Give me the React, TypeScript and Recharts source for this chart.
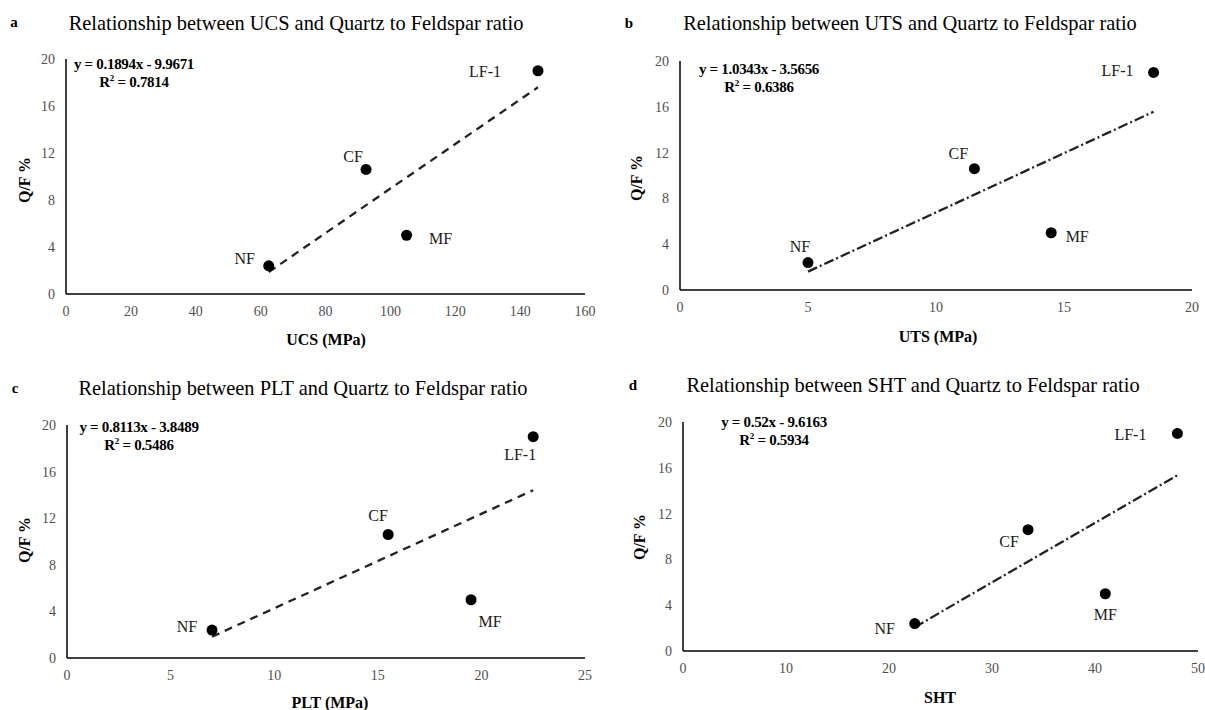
import { ScatterChart, Scatter, XAxis, YAxis } from 'recharts'

// samples and Q/F ratio (%) – same for every panel
const samples = ['NF', 'CF', 'MF', 'LF-1']
const qfRatio = [2.4, 10.6, 5, 19]

// x values per panel
const ucs = [62.5, 92.5, 105, 145.5]
const uts = [5, 11.5, 14.5, 18.5]
const plt = [7, 15.5, 19.5, 22.5]
const sht = [22.5, 33.5, 41, 48]

// printed trendline equations  (slope, intercept, R²)
const slopes = [0.1894, 1.0343, 0.8113, 0.52]
const intercepts = [-9.9671, -3.5656, -3.8489, -9.6163]
const rSquared = ['0.7814', '0.6386', '0.5486', '0.5934']

const yTicks = [0, 4, 8, 12, 16, 20]
const ucsTicks = [0, 20, 40, 60, 80, 100, 120, 140, 160]
const utsTicks = [0, 5, 10, 15, 20]
const pltTicks = [0, 5, 10, 15, 20, 25]
const shtTicks = [0, 10, 20, 30, 40, 50]

const SERIF = 'Liberation Serif'

type Offsets = Record<string, [number, number]>

const panels = [
  {
    key: 'a', param: 'UCS', xLabel: 'UCS (MPa)', xs: ucs, ticks: ucsTicks, dash: '8 6',
    box: { left: 0, top: 0, width: 600, height: 350 },
    margin: { top: 59, right: 15, bottom: 26, left: 46 },
    letter: [14, 22], title: [296, 23], yLab: [25, 180], xLab: [326, 340], eq: [134, 65],
    offsets: { 'LF-1': [-53, 1], CF: [-13, -13], MF: [34, 3], NF: [-24, -7] } as Offsets,
  },
  {
    key: 'b', param: 'UTS', xLabel: 'UTS (MPa)', xs: uts, ticks: utsTicks, dash: '10 3 2 3',
    box: { left: 600, top: 0, width: 605, height: 350 },
    margin: { top: 61, right: 13, bottom: 30, left: 60 },
    letter: [629, 23], title: [910, 23], yLab: [637, 178], xLab: [938, 337], eq: [759, 70],
    offsets: { 'LF-1': [-36, -2], CF: [-16, -15], MF: [26, 4], NF: [-8, -16] } as Offsets,
  },
  {
    key: 'c', param: 'PLT', xLabel: 'PLT (MPa)', xs: plt, ticks: pltTicks, dash: '8 6',
    box: { left: 0, top: 355, width: 600, height: 355 },
    margin: { top: 70, right: 15, bottom: 22, left: 47 },
    letter: [15, 388], title: [303, 388], yLab: [25, 540], xLab: [330, 703], eq: [139, 428],
    offsets: { 'LF-1': [-13, 18], CF: [-10, -19], MF: [19, 22], NF: [-25, -4] } as Offsets,
  },
  {
    key: 'd', param: 'SHT', xLabel: 'SHT', xs: sht, ticks: shtTicks, dash: '10 3 2 3',
    box: { left: 600, top: 355, width: 605, height: 355 },
    margin: { top: 67, right: 7, bottom: 29, left: 63 },
    letter: [633, 385], title: [913, 385], yLab: [640, 537], xLab: [940, 698], eq: [774, 423],
    offsets: { 'LF-1': [-47, 1], CF: [-19, 12], MF: [0, 21], NF: [-30, 5] } as Offsets,
  },
]

function abs(x: number, y: number, extra: React.CSSProperties = {}): React.CSSProperties {
  return {
    position: 'absolute', left: x, top: y, transform: 'translate(-50%, -50%)',
    fontFamily: SERIF, color: '#000', whiteSpace: 'nowrap', lineHeight: 1, ...extra,
  }
}

function Panel({ p, idx }: { p: typeof panels[number]; idx: number }) {
  const points = p.xs.map((x, i) => ({ x, y: qfRatio[i], name: samples[i] }))
  const xMin = Math.min(...p.xs)
  const xMax = Math.max(...p.xs)
  const trend = [xMin, xMax].map(x => ({ x, y: slopes[idx] * x + intercepts[idx] }))
  const xDomainMax = p.ticks[p.ticks.length - 1]
  const sign = intercepts[idx] < 0 ? '-' : '+'

  const dot = (props: any) => {
    const { cx, cy, payload } = props
    const [dx, dy] = p.offsets[payload.name] || [0, 0]
    return (
      <g>
        <circle cx={cx} cy={cy} r={5.5} fill="#000" />
        <text x={cx + dx} y={cy + dy} textAnchor="middle" dominantBaseline="central"
          fontFamily={SERIF} fontSize={16} fill="#1a1a1a">{payload.name}</text>
      </g>
    )
  }

  const tickStyle = { fontSize: 14, fill: '#4f4f4f', fontFamily: SERIF }

  return (
    <>
      <div style={{ position: 'absolute', left: p.box.left, top: p.box.top }}>
        <ScatterChart width={p.box.width} height={p.box.height} margin={p.margin}>
          <XAxis type="number" dataKey="x" domain={[0, xDomainMax]} ticks={p.ticks}
            tickLine={false} axisLine={{ stroke: '#000', strokeWidth: 1.5 }} tickMargin={6}
            tick={tickStyle} height={30} />
          <YAxis type="number" dataKey="y" domain={[0, 20]} ticks={yTicks}
            tickLine={false} axisLine={{ stroke: '#000', strokeWidth: 1.5 }} tickMargin={5}
            tick={tickStyle} width={20} />
          <Scatter data={trend} line={{ stroke: '#222', strokeWidth: 2.3, strokeDasharray: p.dash }}
            shape={() => <g />} isAnimationActive={false} />
          <Scatter data={points} shape={dot} isAnimationActive={false} />
        </ScatterChart>
      </div>
      <div style={abs(p.letter[0], p.letter[1], { fontSize: 15, fontWeight: 700 })}>{p.key}</div>
      <div style={abs(p.title[0], p.title[1], { fontSize: 20.4 })}>
        Relationship between {p.param} and Quartz to Feldspar ratio
      </div>
      <div style={abs(p.yLab[0], p.yLab[1], { fontSize: 16, fontWeight: 700, transform: 'translate(-50%, -50%) rotate(-90deg)' })}>
        Q/F %
      </div>
      <div style={abs(p.xLab[0], p.xLab[1], { fontSize: 16, fontWeight: 700 })}>{p.xLabel}</div>
      <div style={abs(p.eq[0], p.eq[1] + 8, { fontSize: 15, fontWeight: 700, textAlign: 'center', lineHeight: '18px', letterSpacing: -0.3 })}>
        y = {slopes[idx]}x {sign} {Math.abs(intercepts[idx])}
        <br />
        R<sup style={{ fontSize: 9, lineHeight: 0 }}>2</sup> = {rSquared[idx]}
      </div>
    </>
  )
}

export default function App() {
  return (
    <div style={{ position: 'absolute', left: 0, top: 0, width: 1205, height: 710, background: '#fff', overflow: 'hidden', fontFamily: SERIF }}>
      {panels.map((p, i) => <Panel key={p.key} p={p} idx={i} />)}
    </div>
  )
}
